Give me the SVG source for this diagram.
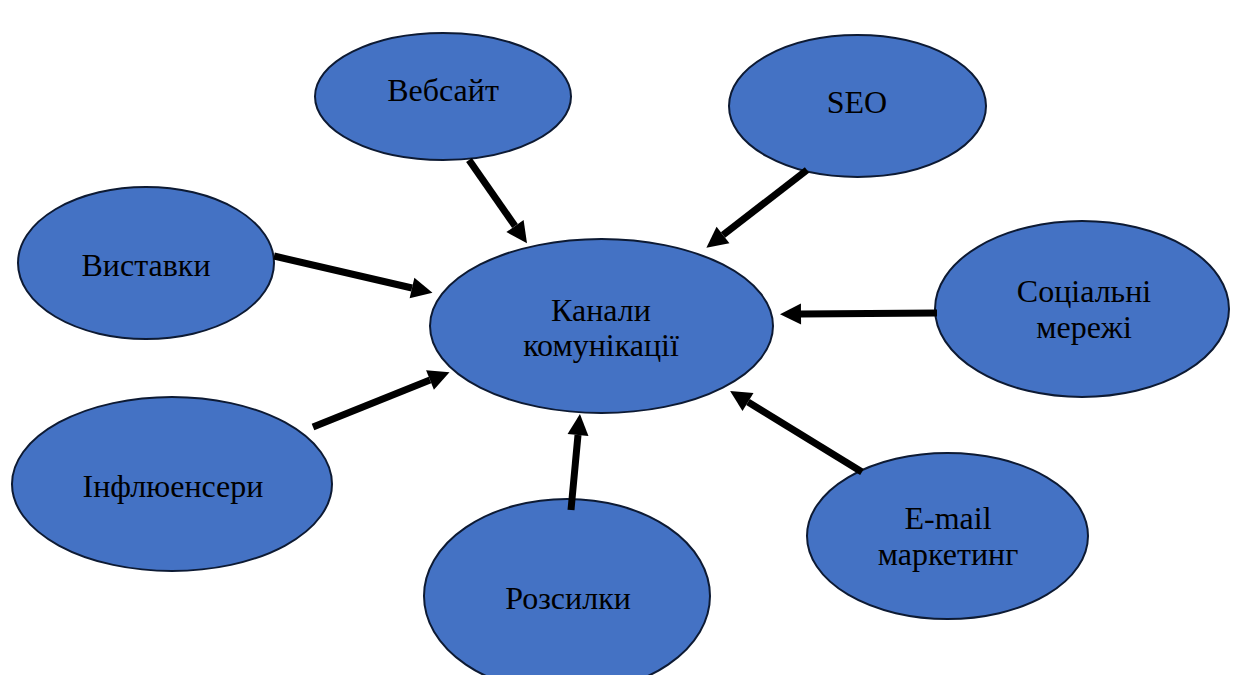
<svg xmlns="http://www.w3.org/2000/svg" width="1235" height="675" viewBox="0 0 1235 675">
<style>
.n{fill:#4472C4;stroke:#0d1a33;stroke-width:2}
.t{font-family:"Liberation Serif","Times New Roman",serif;font-size:32px;fill:#000;text-anchor:middle}
.c{stroke:#000;stroke-width:7;fill:none}
</style>
<defs>
<marker id="ah" viewBox="0 0 10 10" refX="0" refY="5" markerWidth="3" markerHeight="3.2" orient="auto" markerUnits="strokeWidth" overflow="visible">
<path d="M0,0L10,5L0,10z" fill="#000"/>
</marker>
</defs>
<rect width="1235" height="675" fill="#fff"/>
<g id="center"><ellipse class="n" cx="601.5" cy="326" rx="171.5" ry="87"/><text class="t" x="601" y="321">Канали</text><text class="t" x="601" y="356">комунікації</text></g>
<g id="website"><ellipse class="n" cx="443" cy="96.5" rx="128" ry="63.5"/><text class="t" x="443" y="101">Вебсайт</text></g>
<g id="seo"><ellipse class="n" cx="857.5" cy="106" rx="128.5" ry="71"/><text class="t" x="857" y="113">SEO</text></g>
<g id="exhibitions"><ellipse class="n" cx="146" cy="263" rx="128" ry="76"/><text class="t" x="146" y="276">Виставки</text></g>
<g id="social"><ellipse class="n" cx="1082" cy="309" rx="147" ry="88"/><text class="t" x="1084" y="302">Соціальні</text><text class="t" x="1084" y="338">мережі</text></g>
<g id="influencers"><ellipse class="n" cx="172" cy="484" rx="160" ry="87"/><text class="t" x="173" y="497">Інфлюенсери</text></g>
<g id="mailing"><ellipse class="n" cx="567" cy="596" rx="143" ry="97"/><text class="t" x="568" y="609">Розсилки</text></g>
<g id="email"><ellipse class="n" cx="947.5" cy="536" rx="140.5" ry="83"/><text class="t" x="948" y="529">E-mail</text><text class="t" x="948" y="565">маркетинг</text></g>
<g id="connectors">
<line class="c" x1="469" y1="160" x2="515" y2="226" marker-end="url(#ah)"/>
<line class="c" x1="807" y1="170" x2="723" y2="235" marker-end="url(#ah)"/>
<line class="c" x1="274" y1="256" x2="412" y2="288" marker-end="url(#ah)"/>
<line class="c" x1="937" y1="313" x2="801" y2="314" marker-end="url(#ah)"/>
<line class="c" x1="313" y1="427" x2="430" y2="380" marker-end="url(#ah)"/>
<line class="c" x1="571" y1="510" x2="578" y2="435" marker-end="url(#ah)"/>
<line class="c" x1="862" y1="472" x2="748" y2="402" marker-end="url(#ah)"/>
</g>
</svg>
